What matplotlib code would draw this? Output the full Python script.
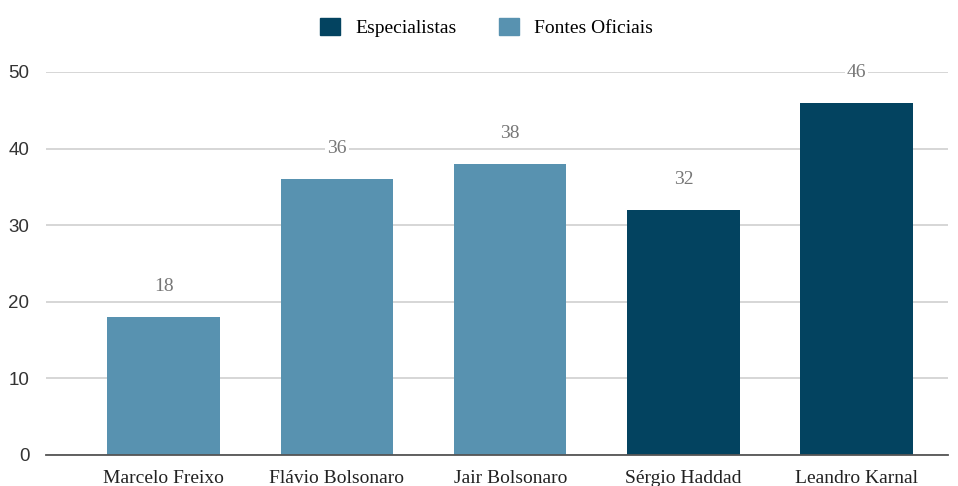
import matplotlib
matplotlib.use("Agg")
import matplotlib.pyplot as plt
from matplotlib.patches import Patch

names = ["Marcelo Freixo", "Flávio Bolsonaro", "Jair Bolsonaro", "Sérgio Haddad", "Leandro Karnal"]
values = [18, 36, 38, 32, 46]
groups = ["Fontes Oficiais", "Fontes Oficiais", "Fontes Oficiais", "Especialistas", "Especialistas"]
y_ticks = [0, 10, 20, 30, 40, 50]

colors = {"Especialistas": "#034360", "Fontes Oficiais": "#5892b0"}
serif = ["Liberation Serif", "DejaVu Serif"]

fig = plt.figure(figsize=(9.58, 4.86), dpi=100)
ax = fig.add_axes([0.048, 0.064, 0.942, 0.788])

x = list(range(len(names)))
bars = ax.bar(x, values, width=0.65, color=[colors[g] for g in groups], zorder=3)

for xi, v in zip(x, values):
    ax.annotate(str(v), (xi, v), xytext=(0, 22), textcoords="offset points",
                ha="center", va="center", fontsize=14, color="#777777",
                family=serif, zorder=4,
                bbox=dict(boxstyle="square,pad=0.1", fc="white", ec="none"))

ax.set_xlim(-0.68, 4.53)
ax.set_ylim(0, 50)
ax.set_yticks(y_ticks)
ax.set_yticklabels([str(t) for t in y_ticks], fontsize=13.5, color="#333333",
                   family=["Liberation Sans", "DejaVu Sans"])
ax.set_xticks(x)
ax.set_xticklabels(names, fontsize=14, color="#222222", family=serif)
ax.tick_params(axis="both", length=0)
ax.tick_params(axis="y", pad=12)
ax.tick_params(axis="x", pad=11)
ax.grid(axis="y", color="#cfcfcf", linewidth=1.2, zorder=0)
ax.set_axisbelow(True)
for s in ["top", "right", "left"]:
    ax.spines[s].set_visible(False)
ax.spines["bottom"].set_color("#555555")
ax.spines["bottom"].set_linewidth(1.3)
ax.spines["bottom"].set_zorder(5)

handles = [Patch(color=colors["Especialistas"], label="Especialistas"),
           Patch(color=colors["Fontes Oficiais"], label="Fontes Oficiais")]
fig.legend(handles=handles, loc="center", bbox_to_anchor=(0.508, 0.943), ncol=2,
           frameon=False, prop={"family": serif, "size": 14},
           handlelength=1.0, handleheight=1.0, columnspacing=2.2, handletextpad=0.8)

fig.savefig("out.png", dpi=100)
